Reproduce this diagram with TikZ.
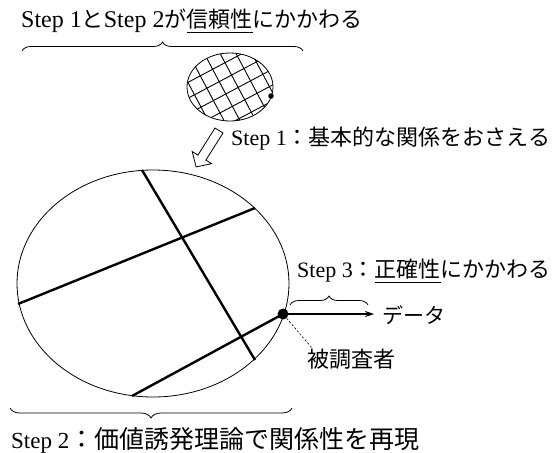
\documentclass[tikz,border=0pt]{standalone}
\usepackage{fontspec}
\setmainfont{Liberation Serif}
\newfontfamily\jp{Noto Sans CJK JP}
\usetikzlibrary{shapes.geometric,decorations.pathreplacing,arrows.meta,calc}
\newcommand\jul[1]{\setbox0\hbox{#1}\rlap{\raisebox{-0.22em}{\rule{\wd0}{0.7pt}}}\box0}
\tikzset{
  txt/.style={inner sep=0pt, anchor=west, font=\fontsize{22}{26}\selectfont},
  oval/.style={ellipse, draw, line width=0.8pt, inner sep=0pt},
  thickline/.style={line width=2.4pt},
  hatch/.style={line width=0.9pt},
  bracestyle/.style={decorate, decoration={brace, amplitude=9pt}, line width=0.8pt},
  dotnode/.style={circle, fill, inner sep=0pt},
}
\begin{document}
\begin{tikzpicture}[x=1pt,y=-1pt]
\path[use as bounding box] (0,0) rectangle (555,453);

% texts
\node[txt, font=\fontsize{24}{28}\selectfont] (top) at (21,21) {Step 1{\jp\fontsize{22}{26}\selectfont と}Step 2{\jp\fontsize{22}{26}\selectfont が\jul{信頼性}にかかわる}};
\node[txt] (s1) at (231,139) {Step 1{\jp ：基本的な関係をおさえる}};
\node[txt] (s3) at (297,271) {Step 3{\jp ：\jul{正確性}にかかわる}};
\node[txt, font=\fontsize{21}{25}\selectfont] (data) at (382,315) {\jp データ};
\node[txt] (resp) at (307,359) {\jp 被調査者};
\node[txt, font=\fontsize{23}{27}\selectfont] (s2) at (11,440) {Step 2{\jp\fontsize{25}{28}\selectfont ：価値誘発理論で関係性を再現}};

% small hatched ellipse
\node[oval, minimum width=86pt, minimum height=68pt] (small) at (230,87) {};
\begin{scope}
  \clip (230,87) ellipse [x radius=43pt, y radius=34pt];
  \foreach \k in {-5,...,5}{
    \draw[hatch] ({230+(\k+0.3)*14*0.469-70*0.883},{87+(\k+0.3)*14*0.883+70*0.469}) -- ({230+(\k+0.3)*14*0.469+70*0.883},{87+(\k+0.3)*14*0.883-70*0.469});
    \draw[hatch] ({230+(\k+0.5)*14*0.883-70*0.469},{87-(\k+0.5)*14*0.469-70*0.883}) -- ({230+(\k+0.5)*14*0.883+70*0.469},{87-(\k+0.5)*14*0.469+70*0.883});
  }
\end{scope}
\node[dotnode, minimum size=5.5pt] (dotsmall) at (271,96) {};

% hollow arrow
\draw[line width=0.8pt, line join=miter] (215,128) -- (223,133) -- (205.9,160.1) -- (211.6,163.7) -- (196.1,166.9) -- (192.2,151.5) -- (197.9,155.1) -- cycle;

% big ellipse
\node[oval, minimum width=272pt, minimum height=227pt] (big) at (153,283.5) {};
\draw[thickline] (142,170) -- (255,360);
\draw[thickline] (18,304) -- (255,208);
\draw[thickline] (132,396) -- (283,314);
\node[dotnode, minimum size=11pt] (dotbig) at (283,314) {};

% connectors
\coordinate (dataend) at (374,314);
\draw[line width=1.1pt, -{Stealth[length=9pt,width=6pt]}] (dotbig.center) -- (dataend);
\coordinate (respend) at (312,348);
\draw[line width=0.6pt, dash pattern=on 2.2pt off 1.8pt] (dotbig) -- (respend);

% braces
\draw[bracestyle] (22,51) -- (303,51);
\draw[bracestyle, decoration={amplitude=10pt}] (292,408) -- (10,408);
\draw[bracestyle] (290,305) -- (368,305);
\end{tikzpicture}
\end{document}
